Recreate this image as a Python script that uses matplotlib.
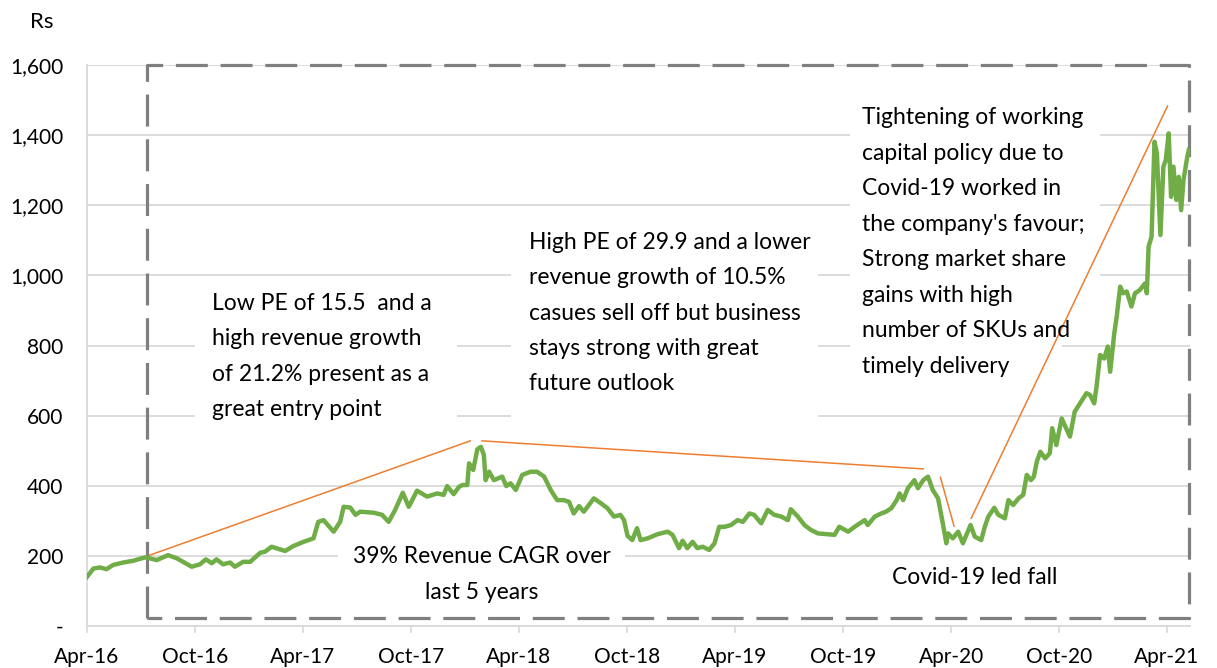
import matplotlib
matplotlib.use("Agg")
import matplotlib.pyplot as plt
from matplotlib.patches import Rectangle
import pandas as pd

plt.rcParams['font.family'] = ['Lato', 'DejaVu Sans']

# ---------------- data ----------------
dates = [
    "2016-04-01", "2016-04-12", "2016-04-23", "2016-05-04", "2016-05-15", "2016-06-01", "2016-06-18", "2016-07-09",
    "2016-07-28", "2016-08-16", "2016-08-31", "2016-09-25", "2016-10-09", "2016-10-19", "2016-10-29", "2016-11-06",
    "2016-11-17", "2016-11-29", "2016-12-07", "2016-12-21",
    "2017-01-02", "2017-01-19", "2017-01-27", "2017-02-07", "2017-03-02", "2017-03-16", "2017-04-02", "2017-04-19",
    "2017-04-27", "2017-05-06", "2017-05-23", "2017-06-03", "2017-06-09", "2017-06-20", "2017-06-29", "2017-07-07",
    "2017-07-30", "2017-08-13", "2017-08-24", "2017-09-04", "2017-09-17", "2017-09-27", "2017-10-11", "2017-10-28",
    "2017-11-14", "2017-11-25", "2017-12-01", "2017-12-12", "2017-12-21", "2017-12-27",
    "2018-01-04", "2018-01-07", "2018-01-14", "2018-01-21", "2018-01-27", "2018-02-01", "2018-02-04", "2018-02-10",
    "2018-02-18", "2018-03-04", "2018-03-11", "2018-03-18", "2018-03-27", "2018-04-07", "2018-04-21", "2018-05-02",
    "2018-05-14", "2018-05-25", "2018-06-05", "2018-06-16", "2018-06-25", "2018-07-03", "2018-07-12", "2018-07-20",
    "2018-08-06", "2018-08-18", "2018-08-29", "2018-09-09", "2018-09-20", "2018-09-26", "2018-10-02", "2018-10-10",
    "2018-10-18", "2018-10-24", "2018-11-05", "2018-11-22", "2018-12-09", "2018-12-17", "2018-12-28",
    "2019-01-03", "2019-01-11", "2019-01-20", "2019-01-28", "2019-02-06", "2019-02-17", "2019-02-26", "2019-03-06",
    "2019-03-15", "2019-03-26", "2019-04-06", "2019-04-15", "2019-04-26", "2019-05-04", "2019-05-16", "2019-05-27",
    "2019-06-07", "2019-06-19", "2019-06-30", "2019-07-05", "2019-07-17", "2019-07-28", "2019-08-08", "2019-08-20",
    "2019-09-03", "2019-09-17", "2019-09-25", "2019-10-10", "2019-10-21", "2019-11-07", "2019-11-12", "2019-11-24",
    "2019-12-05", "2019-12-13", "2019-12-22", "2019-12-31",
    "2020-01-05", "2020-01-11", "2020-01-19", "2020-01-30", "2020-02-05", "2020-02-14", "2020-02-22", "2020-03-01",
    "2020-03-10", "2020-03-18", "2020-03-24", "2020-03-27", "2020-04-04", "2020-04-13", "2020-04-21", "2020-05-04",
    "2020-05-11", "2020-05-22", "2020-05-28", "2020-06-03", "2020-06-13", "2020-06-20", "2020-07-01", "2020-07-07",
    "2020-07-15", "2020-07-24", "2020-08-01", "2020-08-07", "2020-08-14", "2020-08-19", "2020-08-24", "2020-08-30",
    "2020-09-07", "2020-09-15", "2020-09-19", "2020-09-26", "2020-10-05", "2020-10-19", "2020-10-27", "2020-11-05",
    "2020-11-16", "2020-11-22", "2020-11-29", "2020-12-03", "2020-12-09", "2020-12-16", "2020-12-22", "2020-12-26",
    "2021-01-02", "2021-01-06", "2021-01-12", "2021-01-17", "2021-01-23", "2021-01-31", "2021-02-06", "2021-02-14",
    "2021-02-23", "2021-02-26", "2021-03-01", "2021-03-06", "2021-03-11", "2021-03-15", "2021-03-21", "2021-03-26",
    "2021-03-30", "2021-04-04", "2021-04-08", "2021-04-12", "2021-04-17", "2021-04-21", "2021-04-25", "2021-04-29",
    "2021-05-05", "2021-05-08",
]
prices = [
    140, 164, 167, 162, 174, 181, 186, 196, 188, 202, 193, 169, 176, 190, 179, 190, 176, 181, 169, 183,
    183, 209, 212, 226, 214, 228, 240, 250, 297, 302, 269, 297, 340, 338, 317, 326, 323, 317, 297, 331,
    380, 340, 386, 369, 378, 374, 399, 376, 397, 402,
    402, 464, 445, 504, 511, 488, 416, 440, 416, 426, 399, 407, 388, 431, 440, 440, 426, 388, 359, 359,
    354, 321, 342, 326, 364, 350, 336, 312, 317, 302, 257, 245, 279, 245, 250, 262, 269, 260, 222,
    243, 222, 240, 222, 226, 217, 236, 283, 283, 288, 302, 297, 321, 317, 293, 331, 317, 312, 302, 333,
    312, 288, 274, 264, 262, 260, 283, 269, 283, 302, 288, 312, 321, 326, 336, 359,
    378, 359, 393, 416, 393, 416, 426, 388, 364, 293, 236, 264, 250, 269, 236, 288, 255, 245, 283, 312,
    337, 317, 307, 359, 345, 364, 374, 431, 416, 426, 469, 497, 478, 493, 564, 516, 592, 540, 611, 635,
    664, 659, 635, 683, 773, 763, 797, 725,
    835, 882, 968, 949, 954, 911, 949, 958, 977, 949, 1082, 1110, 1381, 1348, 1115, 1310, 1329, 1405, 1224, 1310,
    1215, 1281, 1186, 1272, 1334, 1358,
]

tick_dates = ["2016-04-01", "2016-10-01", "2017-04-01", "2017-10-01", "2018-04-01", "2018-10-01",
              "2019-04-01", "2019-10-01", "2020-04-01", "2020-10-01", "2021-04-01"]
tick_labels = ["Apr-16", "Oct-16", "Apr-17", "Oct-17", "Apr-18", "Oct-18",
               "Apr-19", "Oct-19", "Apr-20", "Oct-20", "Apr-21"]
y_ticks = [0, 200, 400, 600, 800, 1000, 1200, 1400, 1600]
y_labels = ["-", "200", "400", "600", "800", "1,000", "1,200", "1,400", "1,600"]

# highlighted period (dashed box)
box_dates = ["2016-07-11", "2021-05-08"]
box_values = [23, 1600]

# trend annotation lines
trend_start_dates = ["2016-07-16", "2018-01-29", "2020-03-14", "2020-05-05"]
trend_start_values = [202, 528, 424, 307]
trend_end_dates = ["2018-01-09", "2020-02-14", "2020-04-06", "2021-04-02"]
trend_end_values = [528, 448, 285, 1483]

notes = [
    "Low PE of 15.5  and a\nhigh revenue growth\nof 21.2% present as a\ngreat entry point",
    "High PE of 29.9 and a lower\nrevenue growth of 10.5%\ncasues sell off but business\nstays strong with great\nfuture outlook",
    "39% Revenue CAGR over\nlast 5 years",
    "Covid-19 led fall",
    "Tightening of working\ncapital policy due to\nCovid-19 worked in\nthe company's favour;\nStrong market share\ngains with high\nnumber of SKUs and\ntimely delivery",
]

# ---------------- figure ----------------
W, H = 1217, 668
fig = plt.figure(figsize=(W / 100, H / 100), dpi=100)
ax = fig.add_axes([87 / W, 1 - 626 / H, (1190 - 87) / W, (626 - 65) / H])

def fx(x):
    return x / W

def fy(y):
    return 1 - y / H

grid_c = "#D9D9D9"
ax.set_ylim(0, 1600)
ax.set_xlim(pd.Timestamp("2016-04-01"), pd.Timestamp("2021-05-10"))
ax.set_yticks(y_ticks)
ax.set_yticklabels(y_labels)
ax.set_xticks(pd.to_datetime(tick_dates))
ax.set_xticklabels(tick_labels)
ax.set_axisbelow(True)
ax.yaxis.grid(True, color=grid_c, lw=1.3)
for s in ["top", "right"]:
    ax.spines[s].set_visible(False)
for s in ["left", "bottom"]:
    ax.spines[s].set_color(grid_c)
    ax.spines[s].set_linewidth(1.3)
ax.tick_params(axis="y", length=0, pad=17, labelsize=15, labelcolor="black")
ax.tick_params(axis="x", length=5, width=1.2, color=grid_c, pad=10, labelsize=15, labelcolor="black")

# white text backgrounds (hide gridlines behind the notes)
boxes_px = [(195, 280, 457, 430), (511, 220, 818, 422), (338, 540, 625, 612),
            (878, 558, 1075, 598), (850, 95, 1100, 320), (850, 320, 1062, 395)]
for (x0, y0, x1, y1) in boxes_px:
    ax.add_patch(Rectangle((fx(x0), fy(y1)), fx(x1) - fx(x0), fy(y0) - fy(y1),
                           transform=fig.transFigure, facecolor="white", edgecolor="none",
                           zorder=1.5, clip_on=False))

# price line
ax.plot(pd.to_datetime(dates), prices, color="#70AD47", lw=3.2, zorder=3, solid_joinstyle="round")

# dashed box
bx = pd.to_datetime(box_dates)
ax.plot([bx[0], bx[0], bx[1], bx[1], bx[0]],
        [box_values[0], box_values[1], box_values[1], box_values[0], box_values[0]],
        color="#7F7F7F", lw=2.3, dashes=(10, 4), zorder=2.5, clip_on=False)

# trend lines
for sd, sv, ed, ev in zip(trend_start_dates, trend_start_values, trend_end_dates, trend_end_values):
    ax.plot(pd.to_datetime([sd, ed]), [sv, ev], color="#ED7D31", lw=1.1, zorder=4)

# notes
fs = 16.5
ls = 1.85
fig.text(fx(212), fy(356.5), notes[0], fontsize=fs, ha="left", va="center", linespacing=ls, zorder=5)
fig.text(fx(529), fy(313), notes[1], fontsize=fs, ha="left", va="center", linespacing=ls, zorder=5)
fig.text(fx(482), fy(574.5), notes[2], fontsize=fs, ha="center", va="center", multialignment="center",
         linespacing=ls, zorder=5)
fig.text(fx(975), fy(577), notes[3], fontsize=fs, ha="center", va="center", zorder=5)
fig.text(fx(862), fy(242), notes[4], fontsize=fs, ha="left", va="center", linespacing=ls, zorder=5)

fig.text(fx(42), fy(22), "Rs", fontsize=16, ha="center", va="center")

fig.savefig("out.png", dpi=100)
